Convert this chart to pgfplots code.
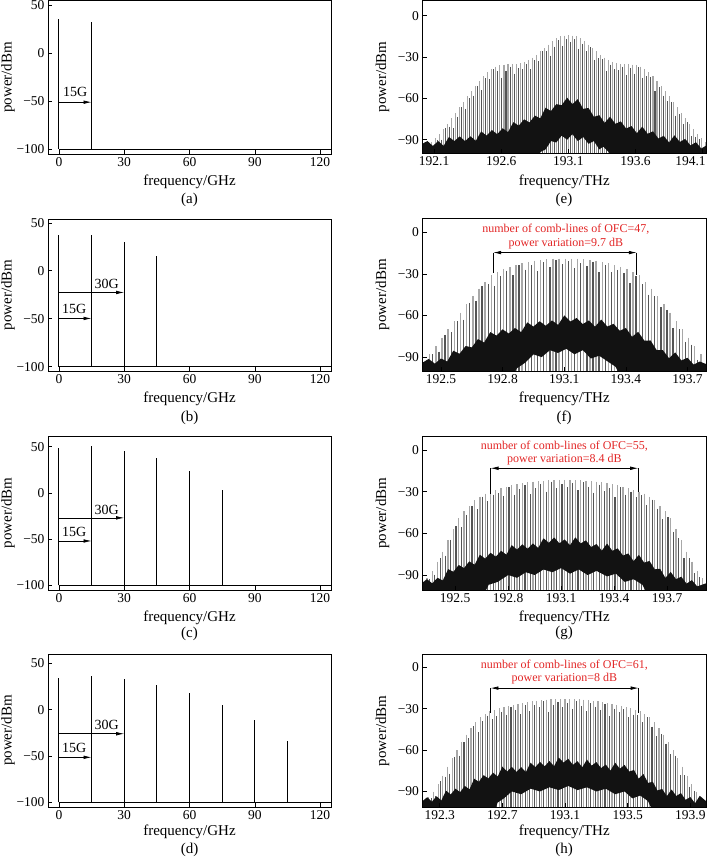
\documentclass[border=0pt]{standalone}
\usepackage{pgfplots}
\pgfplotsset{compat=1.18}
\usepackage{fontspec}
\setmainfont{Liberation Serif}
\usetikzlibrary{arrows.meta}
\definecolor{annred}{RGB}{226,38,38}
\definecolor{lgray}{gray}{0.66}
\definecolor{dgray}{gray}{0.33}
\definecolor{bandc}{gray}{0.07}
\pgfplotsset{
  panelbase/.style={
    scale only axis, anchor=north west, axis on top,
    axis line style={line width=0.75pt},
    tick align=inside, xtick pos=left, ytick pos=left,
    major tick length=4pt, tick style={line width=0.6pt, black},
    tick label style={font=\fontsize{13.5}{15}\selectfont},
    every axis x label/.style={at={(axis description cs:0.5,0)}, yshift=-28pt, anchor=center, font=\fontsize{15}{17}\selectfont},
    every axis y label/.style={at={(axis description cs:-0.1413,0.5)}, rotate=90, anchor=center, font=\fontsize{15}{17}\selectfont},
    ylabel={power/dBm},
  },
  lpanel/.style={panelbase, width=283pt, xmin=-5, xmax=125,
    xtick={0,30,60,90,120}, xticklabels={0,30,60,90,120},
    ytick={-100,-50,0,50}, yticklabels={−100,−50,0,50},
    xlabel={frequency/GHz}},
  rpanel/.style={panelbase, width=283.5pt,
    ytick={-90,-60,-30,0}, yticklabels={−90,−60,−30,0},
    xlabel={frequency/THz}},
  combA/.style={draw=none, mark=none, error bars/y dir=minus, error bars/y fixed=200,
    error bars/error mark=none, error bars/error bar style={draw=lgray, solid, line width=#1}},
  combB/.style={draw=none, mark=none, error bars/y dir=minus, error bars/y fixed=200,
    error bars/error mark=none, error bars/error bar style={draw=dgray, solid, line width=#1}},
  myspec/.style={black, line width=1.2pt, unbounded coords=jump},
  myband/.style={fill=bandc, draw=none},
}
\tikzset{
  myarr/.style={-{Latex[length=8pt,width=3.6pt]}, line width=0.7pt},
  mydarr/.style={{Latex[length=8pt,width=3.6pt]}-{Latex[length=8pt,width=3.6pt]}, line width=0.7pt},
  myglab/.style={font=\fontsize{14}{16}\selectfont},
  myrlab/.style={text=annred, align=center, font=\fontsize{12}{13.3}\selectfont},
  mycapt/.style={font=\fontsize{15}{17}\selectfont},
}
\begin{document}
\begin{tikzpicture}
\useasboundingbox (0,0) rectangle (708pt,-861pt);

% ---------------- (a)
\begin{axis}[lpanel, at={(48pt,-0.5pt)}, height=153.5pt, ymin=-105, ymax=55]
\addplot[myspec] coordinates {(0,-100)(0,36)(0,nan)(15,-100)(15,33)(15,nan)(0,-100)(125,-100)};
\draw[myarr] (axis cs:0,-51) -- (axis cs:15,-51);
\node[myglab] at (axis cs:7.5,-40.5) {15G};
\end{axis}
\node[mycapt] at (189.5pt,-200pt) {(a)};

% ---------------- (b)
\begin{axis}[lpanel, at={(48pt,-219pt)}, height=152pt, ymin=-104.5, ymax=54]
\addplot[myspec] coordinates {(0,-100)(0,37.8)(0,nan)(15,-100)(15,37.8)(15,nan)(30,-100)(30,29.5)(30,nan)(45,-100)(45,15.3)(45,nan)(0,-100)(125,-100)};
\draw[myarr] (axis cs:0,-49.7) -- (axis cs:15,-49.7);
\node[myglab] at (axis cs:7,-39.5) {15G};
\draw[myarr] (axis cs:0,-22.6) -- (axis cs:30,-22.6);
\node[myglab] at (axis cs:22,-14) {30G};
\end{axis}
\node[mycapt] at (189.5pt,-418pt) {(b)};

% ---------------- (c)
\begin{axis}[lpanel, at={(48pt,-436pt)}, height=154pt, ymin=-105, ymax=61.5]
\addplot[myspec] coordinates {(0,-100)(0,48.9)(0,nan)(15,-100)(15,51)(15,nan)(30,-100)(30,45.2)(30,nan)(45,-100)(45,37.5)(45,nan)(60,-100)(60,23.5)(60,nan)(75,-100)(75,2.6)(75,nan)(0,-100)(125,-100)};
\draw[myarr] (axis cs:0,-52) -- (axis cs:15,-52);
\node[myglab] at (axis cs:7,-42) {15G};
\draw[myarr] (axis cs:0,-27) -- (axis cs:30,-27);
\node[myglab] at (axis cs:22,-18) {30G};
\end{axis}
\node[mycapt] at (189.5pt,-634pt) {(c)};

% ---------------- (d)
\begin{axis}[lpanel, at={(48pt,-654pt)}, height=153pt, ymin=-105, ymax=60,
  every axis x label/.append style={yshift=3pt}]
\addplot[myspec] coordinates {(0,-100)(0,33.8)(0,nan)(15,-100)(15,36.3)(15,nan)(30,-100)(30,32.7)(30,nan)(45,-100)(45,26.3)(45,nan)(60,-100)(60,17.6)(60,nan)(75,-100)(75,5.4)(75,nan)(90,-100)(90,-10.8)(90,nan)(105,-100)(105,-34.2)(105,nan)(0,-100)(125,-100)};
\draw[myarr] (axis cs:0,-51.4) -- (axis cs:15,-51.4);
\node[myglab] at (axis cs:7,-41.4) {15G};
\draw[myarr] (axis cs:0,-26) -- (axis cs:30,-26);
\node[myglab] at (axis cs:22,-17) {30G};
\end{axis}
\node[mycapt] at (189.5pt,-850pt) {(d)};

% ---------------- (e)
\begin{axis}[rpanel, at={(422.5pt,-0.5pt)}, height=153pt, xmin=192.013, xmax=194.125, ymin=-100, ymax=11,
  xtick={192.1,192.6,193.1,193.6,194.1}, xticklabels={192.1,192.6,193.1,193.6,\makebox[0pt][r]{194.1\kern-3pt}}]
\addplot[combA=1.05pt] coordinates {(192.080,-92)(192.110,-89)(192.140,-86)(192.170,-82.5)(192.200,-78.5)(192.230,-74.5)(192.260,-70.5)(192.290,-66.5)(192.320,-62.5)(192.350,-58.5)(192.380,-55)(192.410,-51)(192.440,-47.5)(192.470,-44)(192.500,-41)(192.530,-39)(192.560,-37)(192.590,-36)(192.620,-35.5)(192.650,-35)(192.680,-35)(192.710,-35)(192.740,-34.5)(192.770,-33.5)(192.800,-32)(192.830,-30.5)(192.860,-28.5)(192.890,-26)(192.920,-23.5)(192.950,-21)(192.980,-18.5)(193.010,-16.5)(193.040,-15)(193.070,-14.5)(193.100,-14)(193.130,-14.5)(193.160,-15)(193.190,-16.5)(193.220,-18.5)(193.250,-21)(193.280,-23.5)(193.310,-26)(193.340,-28.5)(193.370,-30.5)(193.400,-32)(193.430,-33.5)(193.460,-34.5)(193.490,-35)(193.520,-35)(193.550,-35)(193.580,-35.5)(193.610,-36)(193.640,-37)(193.670,-39)(193.700,-41)(193.730,-44)(193.760,-47.5)(193.790,-51)(193.820,-55)(193.850,-58.5)(193.880,-62.5)(193.910,-66.5)(193.940,-70.5)(193.970,-74.5)(194.000,-78.5)(194.030,-82.5)(194.060,-86)(194.090,-89)(194.120,-92)};
\addplot[combB=1.05pt] coordinates {(192.095,-94.5)(192.125,-90.5)(192.155,-90)(192.185,-81.5)(192.215,-80.5)(192.245,-81.5)(192.275,-73.5)(192.305,-66.5)(192.335,-67.5)(192.365,-60)(192.395,-58)(192.425,-51)(192.455,-54)(192.485,-45.5)(192.515,-46)(192.545,-39)(192.575,-40.5)(192.605,-45)(192.635,-40)(192.665,-37)(192.695,-42)(192.725,-38)(192.755,-39)(192.785,-35)(192.815,-39)(192.845,-32.5)(192.875,-33)(192.905,-26)(192.935,-26)(192.965,-29)(192.995,-22.5)(193.025,-18)(193.055,-22)(193.085,-17)(193.115,-19)(193.145,-17)(193.175,-24)(193.205,-20.5)(193.235,-26)(193.265,-23)(193.295,-32)(193.325,-31)(193.355,-31.5)(193.385,-40)(193.415,-35.5)(193.445,-39)(193.475,-39.5)(193.505,-37)(193.535,-43)(193.565,-38)(193.595,-42)(193.625,-37.5)(193.655,-45)(193.685,-44)(193.715,-44.5)(193.745,-55)(193.775,-52)(193.805,-58)(193.835,-62)(193.865,-62.5)(193.895,-72.5)(193.925,-71.5)(193.955,-78.5)(193.985,-77.5)(194.015,-87.5)(194.045,-88)(194.075,-89.5)(194.105,-99.5)};
\addplot[myband] coordinates {(192.01,-93)(192.05,-91)(192.09,-94.5)(192.13,-91)(192.17,-94.5)(192.21,-88)(192.25,-91)(192.29,-87.6)(192.33,-91)(192.37,-87.5)(192.41,-90.8)(192.45,-84)(192.49,-87)(192.53,-83)(192.57,-86)(192.61,-81.7)(192.65,-84.5)(192.69,-77.3)(192.73,-79.8)(192.77,-75.2)(192.81,-77.5)(192.85,-72.5)(192.89,-74.5)(192.93,-66.8)(192.97,-69.2)(193.01,-64.2)(193.05,-65)(193.09,-59.5)(193.13,-64.2)(193.17,-60.6)(193.21,-67.6)(193.25,-67)(193.29,-73.4)(193.33,-72.2)(193.37,-77.8)(193.41,-73.3)(193.45,-78.5)(193.49,-76.7)(193.53,-81.9)(193.57,-80.1)(193.61,-85.3)(193.65,-80.5)(193.69,-85.7)(193.73,-83.9)(193.77,-89.1)(193.81,-87.2)(193.85,-92)(193.89,-86.8)(193.93,-91.6)(193.97,-89.4)(194.01,-94.2)(194.05,-91.8)(194.09,-96.4)(194.13,-94)(194.13,-106)(193.45,-106)(193.40,-99)(193.36,-95)(193.33,-97)(193.29,-91)(193.25,-93)(193.21,-88)(193.17,-91)(193.13,-86)(193.09,-90)(193.05,-87)(193.01,-92)(192.97,-91)(192.93,-97)(192.89,-99)(192.86,-106)(192.01,-106)};
\end{axis}
\node[mycapt] at (564pt,-200pt) {(e)};

% ---------------- (f)
\begin{axis}[rpanel, at={(422.5pt,-218.3pt)}, height=152.7pt, xmin=192.41, xmax=193.79, ymin=-100, ymax=10,
  xtick={192.5,192.8,193.1,193.4,193.7}, xticklabels={192.5,192.8,193.1,193.4,193.7}]
\addplot[combA=1.4pt] coordinates {(192.445,-88)(192.475,-82)(192.505,-76)(192.535,-70)(192.565,-64)(192.595,-58)(192.625,-52)(192.655,-46)(192.685,-40.6)(192.715,-35.8)(192.745,-31.2)(192.775,-28.6)(192.805,-26.5)(192.835,-25)(192.865,-23.6)(192.895,-22.4)(192.925,-21.4)(192.955,-20.5)(192.985,-19.9)(193.015,-19.4)(193.045,-19.1)(193.075,-19)(193.105,-19)(193.135,-19)(193.165,-19.1)(193.195,-19.4)(193.225,-19.9)(193.255,-20.5)(193.285,-21.4)(193.315,-22.4)(193.345,-23.6)(193.375,-25)(193.405,-26.5)(193.435,-28.6)(193.465,-31.2)(193.495,-35.8)(193.525,-40.6)(193.555,-46)(193.585,-52)(193.615,-58)(193.645,-64)(193.675,-70)(193.705,-76)(193.735,-82)(193.765,-88)};
\addplot[combB=1.4pt] coordinates {(192.46,-88)(192.49,-86)(192.52,-74)(192.55,-72)(192.58,-64)(192.61,-63)(192.64,-51)(192.67,-49.3)(192.70,-39)(192.73,-37.5)(192.76,-38.6)(192.79,-31.5)(192.82,-27.7)(192.85,-31.2)(192.88,-24)(192.91,-26.9)(192.94,-23.9)(192.97,-28.2)(193.00,-21.6)(193.03,-25.3)(193.06,-20)(193.09,-23)(193.12,-21)(193.15,-26)(193.18,-22.3)(193.21,-24.6)(193.24,-21.2)(193.27,-28.9)(193.30,-23.9)(193.33,-29)(193.36,-27.2)(193.39,-29.7)(193.42,-36.5)(193.45,-31.6)(193.48,-37.5)(193.51,-45)(193.54,-46.3)(193.57,-54)(193.60,-56)(193.63,-69)(193.66,-70)(193.69,-79)(193.72,-81)(193.75,-92)};
\addplot[myband] coordinates {(192.41,-94)(192.44,-91.3)(192.47,-94.7)(192.50,-91)(192.53,-93.2)(192.56,-85.4)(192.59,-87.6)(192.62,-82)(192.65,-83)(192.68,-77)(192.71,-79.5)(192.74,-72)(192.77,-74.5)(192.80,-70)(192.83,-73)(192.86,-69)(192.89,-72)(192.92,-65)(192.95,-68)(192.98,-64.2)(193.01,-67.4)(193.04,-63.6)(193.07,-66.8)(193.10,-60)(193.13,-64.4)(193.16,-61.8)(193.19,-66.2)(193.22,-63.6)(193.25,-68)(193.28,-63)(193.31,-68)(193.34,-66)(193.37,-71)(193.40,-69)(193.43,-75.4)(193.46,-71.8)(193.49,-78.2)(193.52,-78)(193.55,-85)(193.58,-85)(193.61,-90.8)(193.64,-86.6)(193.67,-92.4)(193.70,-90.5)(193.73,-95.4)(193.76,-93.2)(193.79,-95)(193.79,-106)(193.38,-106)(193.35,-97)(193.31,-93)(193.27,-89)(193.23,-91)(193.19,-85)(193.15,-88)(193.11,-84)(193.07,-87)(193.03,-85)(192.99,-90)(192.95,-88)(192.91,-94)(192.87,-98)(192.84,-106)(192.41,-106)};
\draw[line width=0.7pt] (axis cs:192.754,-14.7) -- (axis cs:192.754,-29.6);
\draw[line width=0.7pt] (axis cs:193.453,-14.7) -- (axis cs:193.453,-30.8);
\draw[mydarr] (axis cs:192.754,-14.7) -- (axis cs:193.453,-14.7);
\node[myrlab] at (axis cs:193.108,-3.1) {number of comb-lines of OFC=47,\\power variation=9.7 dB};
\end{axis}
\node[mycapt] at (564pt,-418pt) {(f)};

% ---------------- (g)
\begin{axis}[rpanel, at={(422.5pt,-436pt)}, height=154.3pt, xmin=192.315, xmax=193.92, ymin=-101, ymax=10,
  xtick={192.5,192.8,193.1,193.4,193.7}, xticklabels={192.5,192.8,193.1,193.4,193.7}]
\addplot[combA=1.25pt] coordinates {(192.34,-92.4)(192.37,-87)(192.40,-80.4)(192.43,-73.2)(192.46,-64.8)(192.49,-56.8)(192.52,-49)(192.55,-44.2)(192.58,-40.4)(192.61,-36.2)(192.64,-33.6)(192.67,-31.5)(192.70,-30)(192.73,-28.7)(192.76,-27.6)(192.79,-26.6)(192.82,-25.5)(192.85,-24.8)(192.88,-24)(192.91,-23.3)(192.94,-22.8)(192.97,-22.5)(193.00,-22.2)(193.03,-21.9)(193.06,-21.8)(193.09,-21.6)(193.12,-21.5)(193.15,-21.6)(193.18,-21.8)(193.21,-21.9)(193.24,-22.2)(193.27,-22.5)(193.30,-22.8)(193.33,-23.3)(193.36,-24)(193.39,-24.8)(193.42,-25.5)(193.45,-26.6)(193.48,-27.6)(193.51,-28.7)(193.54,-30)(193.57,-31.5)(193.60,-33.6)(193.63,-36.2)(193.66,-40.4)(193.69,-44.2)(193.72,-49)(193.75,-56.8)(193.78,-64.8)(193.81,-73.2)(193.84,-80.4)(193.87,-87)(193.90,-92.4)};
\addplot[combB=1.25pt] coordinates {(192.355,-92.7)(192.385,-89.7)(192.415,-78.1)(192.445,-76)(192.475,-64.7)(192.505,-54.9)(192.535,-55.6)(192.565,-46.8)(192.595,-40.3)(192.625,-42.7)(192.655,-33.6)(192.685,-36.8)(192.715,-32.2)(192.745,-31.1)(192.775,-33.1)(192.805,-27)(192.835,-32.1)(192.865,-28.4)(192.895,-25.6)(192.925,-32)(192.955,-27.7)(192.985,-24.4)(193.015,-30.1)(193.045,-22.9)(193.075,-27.7)(193.105,-24.6)(193.135,-26.6)(193.165,-23.7)(193.195,-28.9)(193.225,-23.1)(193.255,-26.4)(193.285,-30.7)(193.315,-25)(193.345,-29.6)(193.375,-27.4)(193.405,-34.1)(193.435,-27)(193.465,-32.1)(193.495,-30.1)(193.525,-34.2)(193.555,-32.8)(193.585,-39.6)(193.615,-35.7)(193.645,-42.3)(193.675,-49.8)(193.705,-48.6)(193.735,-58.9)(193.765,-63.7)(193.795,-78)(193.825,-78.1)(193.855,-88.7)(193.885,-91.7)};
\addplot[myband] coordinates {(192.31,-96)(192.34,-93)(192.37,-96)(192.40,-92)(192.43,-93.9)(192.46,-85.8)(192.49,-87.7)(192.52,-82.8)(192.55,-85)(192.58,-80.2)(192.61,-82.6)(192.64,-75.4)(192.67,-78.2)(192.70,-74)(192.73,-76.8)(192.76,-72.6)(192.79,-75.4)(192.82,-68.5)(192.85,-71.7)(192.88,-67.9)(192.91,-71.1)(192.94,-67.3)(192.97,-70.5)(193.00,-63.6)(193.03,-66.8)(193.06,-63)(193.09,-67.2)(193.12,-64.4)(193.15,-68.6)(193.18,-62.9)(193.21,-67.3)(193.24,-65.1)(193.27,-69.9)(193.30,-67.7)(193.33,-72.5)(193.36,-67.4)(193.39,-72.6)(193.42,-70.8)(193.45,-76)(193.48,-74.5)(193.51,-80)(193.54,-75.5)(193.57,-81.1)(193.60,-79.9)(193.63,-85.9)(193.66,-85.5)(193.69,-92.1)(193.72,-87.8)(193.75,-93)(193.78,-91.2)(193.81,-96.2)(193.84,-93.7)(193.87,-98.2)(193.92,-96)(193.92,-107)(193.60,-107)(193.56,-97)(193.51,-93)(193.46,-95)(193.41,-89)(193.36,-91)(193.30,-87)(193.25,-90)(193.20,-86)(193.15,-89)(193.10,-85)(193.05,-88)(193.00,-86)(192.95,-90)(192.90,-88)(192.85,-92)(192.80,-90)(192.74,-95)(192.69,-97)(192.65,-107)(192.31,-107)};
\draw[line width=0.7pt] (axis cs:192.70,-13.2) -- (axis cs:192.70,-31.7);
\draw[line width=0.7pt] (axis cs:193.536,-13.2) -- (axis cs:193.536,-30.5);
\draw[mydarr] (axis cs:192.70,-13.2) -- (axis cs:193.536,-13.2);
\node[myrlab] at (axis cs:193.118,-2.05) {number of comb-lines of OFC=55,\\power variation=8.4 dB};
\end{axis}
\node[mycapt] at (564pt,-633pt) {(g)};

% ---------------- (h)
\begin{axis}[rpanel, at={(422.5pt,-654.3pt)}, height=153pt, xmin=192.19, xmax=194.0, ymin=-101.5, ymax=9.4,
  xtick={192.3,192.7,193.1,193.5,193.9}, xticklabels={192.3,192.7,193.1,193.5,193.9},
  every axis x label/.append style={yshift=3pt}]
\addplot[combA=1.15pt] coordinates {(192.23,-94)(192.26,-90.2)(192.29,-84.8)(192.32,-78.6)(192.35,-72)(192.38,-66)(192.41,-60)(192.44,-54)(192.47,-48.8)(192.50,-44)(192.53,-39.8)(192.56,-36.3)(192.59,-34.1)(192.62,-32)(192.65,-30.9)(192.68,-29.8)(192.71,-28.8)(192.74,-28)(192.77,-27.3)(192.80,-26.5)(192.83,-25.9)(192.86,-25.3)(192.89,-24.7)(192.92,-24.3)(192.95,-23.9)(192.98,-23.5)(193.01,-23.3)(193.04,-23.2)(193.07,-23.1)(193.10,-23)(193.13,-23.1)(193.16,-23.2)(193.19,-23.3)(193.22,-23.5)(193.25,-23.9)(193.28,-24.3)(193.31,-24.7)(193.34,-25.3)(193.37,-25.9)(193.40,-26.5)(193.43,-27.3)(193.46,-28)(193.49,-28.8)(193.52,-29.8)(193.55,-30.9)(193.58,-32)(193.61,-34.1)(193.64,-36.3)(193.67,-39.8)(193.70,-44)(193.73,-48.8)(193.76,-54)(193.79,-60)(193.82,-66)(193.85,-72)(193.88,-78.6)(193.91,-84.8)(193.94,-90.2)(193.97,-94)};
\addplot[combB=1.15pt] coordinates {(192.245,-95.1)(192.275,-93.5)(192.305,-82.7)(192.335,-79.3)(192.365,-77)(192.395,-65)(192.425,-64)(192.455,-54.4)(192.485,-51.4)(192.515,-42.9)(192.545,-47)(192.575,-39.2)(192.605,-35)(192.635,-37.5)(192.665,-35.4)(192.695,-32.3)(192.725,-34.4)(192.755,-28.7)(192.785,-30.9)(192.815,-34.2)(192.845,-27.6)(192.875,-32)(192.905,-27.5)(192.935,-29.1)(192.965,-24.7)(192.995,-32.4)(193.025,-27.3)(193.055,-25.2)(193.085,-29)(193.115,-26)(193.145,-30.2)(193.175,-24.3)(193.205,-28.4)(193.235,-31.7)(193.265,-26.1)(193.295,-28.5)(193.325,-31)(193.355,-26.6)(193.385,-35.2)(193.415,-29.9)(193.445,-32.7)(193.475,-30.4)(193.505,-36.3)(193.535,-34.4)(193.565,-34.5)(193.595,-40)(193.625,-36.2)(193.655,-43)(193.685,-49.9)(193.715,-48.4)(193.745,-55.4)(193.775,-63)(193.805,-64)(193.835,-78)(193.865,-78.3)(193.895,-86.7)(193.925,-89.5)(193.955,-99)};
\addplot[myband] coordinates {(192.19,-97)(192.22,-94.2)(192.25,-97.4)(192.28,-93.5)(192.31,-96.6)(192.34,-89.4)(192.37,-92.2)(192.40,-88)(192.43,-90.5)(192.46,-86)(192.49,-88.5)(192.52,-80.8)(192.55,-83)(192.58,-78.2)(192.61,-80.6)(192.64,-76.4)(192.67,-79.2)(192.70,-72)(192.73,-75.6)(192.76,-72.2)(192.79,-75.8)(192.82,-72.4)(192.85,-76)(192.88,-69.2)(192.91,-72.4)(192.94,-68.6)(192.97,-71.8)(193.00,-68)(193.03,-71.7)(193.06,-65.4)(193.09,-69.1)(193.12,-66.3)(193.15,-70.7)(193.18,-68.1)(193.21,-72.5)(193.24,-66.9)(193.27,-71.3)(193.30,-68.7)(193.33,-73.1)(193.36,-70.5)(193.39,-74.9)(193.42,-69.2)(193.45,-73.5)(193.48,-70.8)(193.51,-75.6)(193.54,-74.4)(193.57,-80.7)(193.60,-77.3)(193.63,-83.8)(193.66,-83)(193.69,-89.3)(193.72,-88.2)(193.75,-93.4)(193.78,-88.6)(193.81,-93.3)(193.84,-91.2)(193.87,-96.1)(193.90,-94)(193.93,-98.6)(193.96,-93.2)(194.00,-97)(194.00,-107)(193.67,-107)(193.63,-97)(193.58,-93)(193.53,-95)(193.48,-90)(193.42,-92)(193.36,-88)(193.30,-90)(193.24,-87)(193.18,-89)(193.12,-86)(193.06,-89)(193.00,-87)(192.94,-90)(192.88,-88)(192.82,-92)(192.76,-90)(192.71,-95)(192.67,-98)(192.64,-107)(192.19,-107)};
\draw[line width=0.7pt] (axis cs:192.624,-15.1) -- (axis cs:192.624,-33);
\draw[line width=0.7pt] (axis cs:193.57,-15.1) -- (axis cs:193.57,-33);
\draw[mydarr] (axis cs:192.624,-15.1) -- (axis cs:193.57,-15.1);
\node[myrlab] at (axis cs:193.096,-3.7) {number of comb-lines of OFC=61,\\power variation=8 dB};
\end{axis}
\node[mycapt] at (564pt,-850pt) {(h)};
\end{tikzpicture}
\end{document}
